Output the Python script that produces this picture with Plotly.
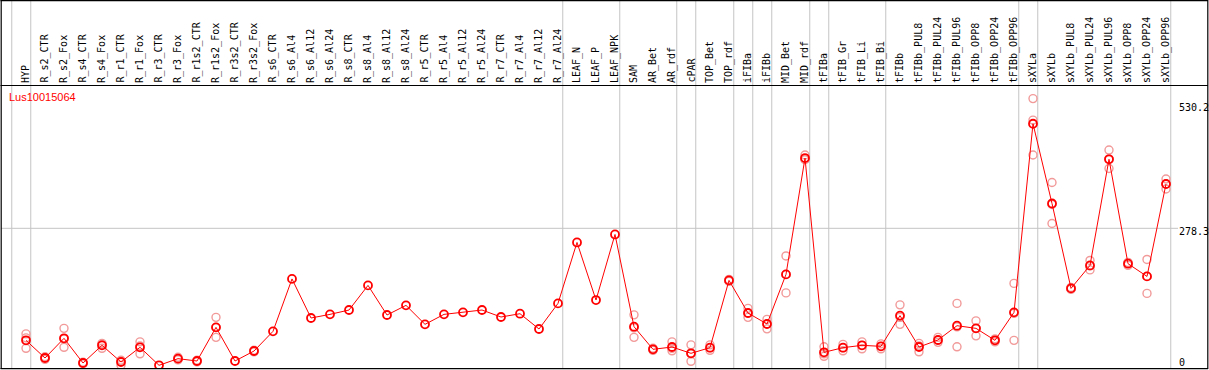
import plotly.graph_objects as go

title = "Lus10015064"

# groups of columns (each group separated by a gray vertical line)
groups = [
    ["HYP"],
    ["R_s2_CTR", "R_s2_Fox", "R_s4_CTR", "R_s4_Fox", "R_r1_CTR", "R_r1_Fox",
     "R_r3_CTR", "R_r3_Fox", "R_r1s2_CTR", "R_r1s2_Fox", "R_r3s2_CTR", "R_r3s2_Fox",
     "R_s6_CTR", "R_s6_Al4", "R_s6_Al12", "R_s6_Al24", "R_s8_CTR", "R_s8_Al4",
     "R_s8_Al12", "R_s8_Al24", "R_r5_CTR", "R_r5_Al4", "R_r5_Al12", "R_r5_Al24",
     "R_r7_CTR", "R_r7_Al4", "R_r7_Al12", "R_r7_Al24"],
    ["LEAF_N", "LEAF_P", "LEAF_NPK"],
    ["SAM", "AR_Bet", "AR_rdf"],
    ["cPAR"],
    ["TOP_Bet", "TOP_rdf"],
    ["iFIBa"],
    ["iFIBb"],
    ["MID_Bet", "MID_rdf"],
    ["tFIBa"],
    ["tFIB_Gr", "tFIB_Li", "tFIB_Bi"],
    ["tFIBb", "tFIBb_PUL8", "tFIBb_PUL24", "tFIBb_PUL96", "tFIBb_OPP8", "tFIBb_OPP24", "tFIBb_OPP96"],
    ["sXYLa"],
    ["sXYLb", "sXYLb_PUL8", "sXYLb_PUL24", "sXYLb_PUL96", "sXYLb_OPP8", "sXYLb_OPP24", "sXYLb_OPP96"],
]

means = [54, 18.6, 58, 8.6, 44, 10.6, 40, 4, 17.3, 12.6, 80, 12.6, 32.6,
         72, 177, 98.7, 106, 114.7, 164, 104.7, 124, 86, 106, 110, 114.7,
         100.7, 107.3, 76.7, 128,
         250, 134.7, 266,
         81.3, 36, 40.6,
         28,
         39.3, 174,
         108.7,
         86.7,
         186, 419,
         30,
         39.3, 44, 42,
         103.5, 40.6, 54.7, 83.3, 78, 54, 110,
         487.7,
         328, 158, 204, 416.5, 207.5, 182, 367]

replicates = [
    [67, 59, 38], [21, 16, 19], [78, 57, 40], [10, 7, 9], [48, 46, 38],
    [14, 13, 4], [51, 43, 27], [], [20, 15, 17], [14, 11, 13], [100, 80, 60],
    [], [34, 31, 33],
    [], [], [], [], [], [], [], [], [], [], [], [], [], [], [], [],
    [], [], [],
    [105, 79, 60], [38, 34, 36], [51, 38, 33],
    [45, 27, 12],
    [45, 39, 34], [176, 172, 174],
    [118, 108, 100],
    [96, 87, 77],
    [223, 186, 149], [425, 416, 416],
    [41, 27, 22],
    [46, 39, 33], [51, 44, 37], [47, 42, 37],
    [125, 100, 86], [48, 43, 31], [60, 50, 54], [128, 81, 41], [93, 78, 63], [57, 54, 51], [168, 108, 54],
    [538, 495, 425],
    [370, 326, 288], [160, 156, 158], [214, 203, 195], [435, 417, 398], [210, 209, 204], [216, 182, 148], [377, 367, 357],
]

scale_labels = ["530.2", "278.3", "0"]
scale_values = [530.2, 278.3, 0]

labels = [lab for g in groups for lab in g]
xs = list(range(len(labels)))

W, H = 1209, 370
ML, MR, MT, MB = 1, 1, 85, 1
PW, PH = W - ML - MR, H - MT - MB
X0, DX = 26, 19          # pixel of first column, column spacing
ZERO_PX, UPP = 367.3, 2.0024  # pixel of value 0, value units per pixel

def xr(px):
    return (px - X0) / DX

def val(py):
    return (ZERO_PX - py) * UPP

x_range = [xr(ML), xr(ML + PW)]
y_range = [val(MT + PH), val(MT)]

def ypaper(py):
    return (MT + PH - py) / PH

def xpaper(px):
    return (px - ML) / PW

fig = go.Figure()

rx, ry = [], []
for i, reps in enumerate(replicates):
    for v in reps:
        rx.append(i)
        ry.append(v)

fig.add_trace(go.Scatter(
    x=rx, y=ry, mode="markers",
    marker=dict(symbol="circle-open", size=8, color="#f29a9a", line=dict(width=1.4, color="#f29a9a")),
    hoverinfo="skip", showlegend=False))

fig.add_trace(go.Scatter(
    x=xs, y=means, mode="lines+markers",
    line=dict(color="#ff0000", width=1),
    marker=dict(symbol="circle-open", size=8, color="#ff0000", line=dict(width=1.8, color="#ff0000")),
    showlegend=False))

shapes = []
grid = "#c4c4c4"
# group separator lines
ends = [-1]
n = 0
for g in groups:
    n += len(g)
    ends.append(n - 1)
for e in ends:
    shapes.append(dict(type="line", xref="x", yref="paper", x0=e + 0.25, x1=e + 0.25,
                       y0=0, y1=ypaper(0), line=dict(color=grid, width=1), layer="below"))
# horizontal grid line
shapes.append(dict(type="line", xref="paper", yref="y", x0=0, x1=xpaper(1178),
                   y0=scale_values[1], y1=scale_values[1], line=dict(color=grid, width=1), layer="below"))
# black frame
blk = dict(color="black", width=1.2)
shapes += [
    dict(type="line", xref="paper", yref="paper", x0=xpaper(0.5), x1=xpaper(1208), y0=ypaper(0.6), y1=ypaper(0.6), line=blk),
    dict(type="line", xref="paper", yref="paper", x0=xpaper(0.5), x1=xpaper(1208), y0=ypaper(85.5), y1=ypaper(85.5), line=blk),
    dict(type="line", xref="paper", yref="paper", x0=xpaper(0.5), x1=xpaper(1208), y0=ypaper(368.7), y1=ypaper(368.7), line=blk),
    dict(type="line", xref="paper", yref="paper", x0=xpaper(1.2), x1=xpaper(1.2), y0=ypaper(0), y1=ypaper(369), line=blk),
    dict(type="line", xref="paper", yref="paper", x0=xpaper(1207.8), x1=xpaper(1207.8), y0=ypaper(0), y1=ypaper(369), line=blk),
]

annotations = []
for i, lab in enumerate(labels):
    annotations.append(dict(x=i, y=ypaper(84), xref="x", yref="paper", text=lab, textangle=-90,
                            showarrow=False, xanchor="center", yanchor="bottom",
                            font=dict(family="DejaVu Sans Mono", size=10, color="black"), borderpad=0))
shifts = [-5, -3.5, 5]
for t, v, s in zip(scale_labels, scale_values, shifts):
    annotations.append(dict(x=xpaper(1178), y=v, xref="paper", yref="y", text=t,
                            showarrow=False, xanchor="left", yanchor="middle", yshift=s,
                            font=dict(family="DejaVu Sans Mono", size=10, color="black"), borderpad=0))
annotations.append(dict(x=xpaper(8), y=ypaper(96.5), xref="paper", yref="paper", text=title, showarrow=False,
                        xanchor="left", yanchor="middle",
                        font=dict(family="Liberation Sans", size=11, color="#ff0000"), borderpad=0))

fig.update_layout(
    width=W, height=H,
    margin=dict(l=ML, r=MR, t=MT, b=MB, pad=0),
    paper_bgcolor="white", plot_bgcolor="white",
    xaxis=dict(range=x_range, visible=False, showgrid=False, zeroline=False, fixedrange=True),
    yaxis=dict(range=y_range, visible=False, showgrid=False, zeroline=False, fixedrange=True),
    shapes=shapes, annotations=annotations,
)

fig.write_html("out.html", config={"displayModeBar": False},
               post_script="document.body.style.margin='0';document.body.style.overflow='hidden';")
